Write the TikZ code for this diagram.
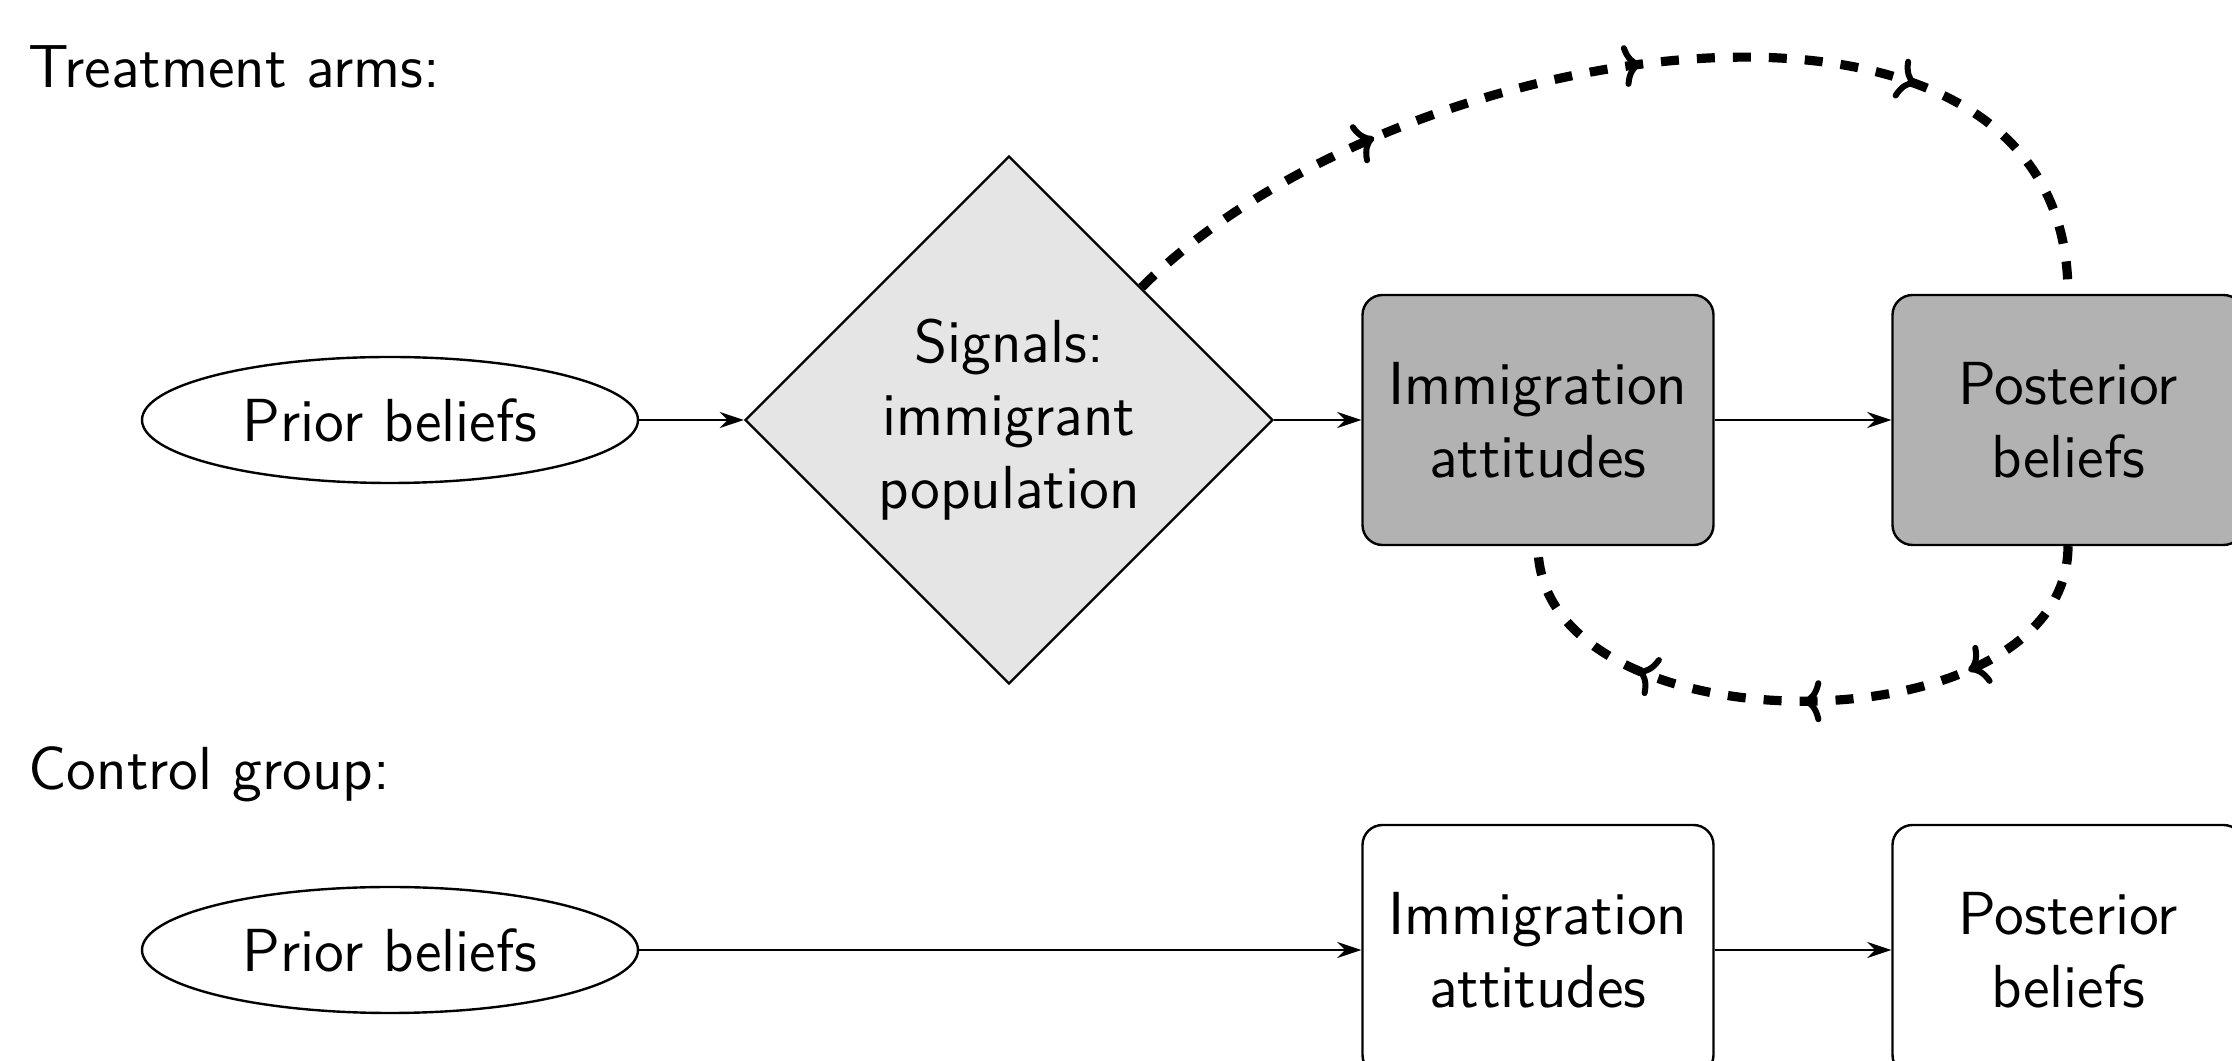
\documentclass[tikz,border=0pt]{standalone}
\usepackage{fontspec}
\usetikzlibrary{shapes.geometric,arrows.meta,decorations.markings}
\tikzset{looptip/.tip={Computer Modern Rightarrow[length=4.6pt, width=10.5pt, line width=1.5pt]}}
\begin{document}
\begin{tikzpicture}[x=0.25pt,y=0.25pt,
  font=\sffamily\fontsize{15.2pt}{18.25pt}\selectfont,
  oval/.style={draw, line width=0.6pt, ellipse, minimum width=124pt, minimum height=31.5pt, inner sep=0pt},
  signal/.style={draw, line width=0.6pt, diamond, aspect=1, fill=black!10, minimum width=132pt, minimum height=132pt, inner sep=0pt, align=center},
  stage/.style={draw, line width=0.6pt, rounded corners=5pt, minimum width=87.75pt, minimum height=62.5pt, align=center, inner sep=0pt},
  stagedark/.style={stage, fill=black!30},
  title/.style={anchor=base west, inner sep=0pt},
  flow/.style={line width=0.6pt, -{Stealth[length=6pt,width=4pt]}},
  loopflow/.style={line width=2.3pt, dash pattern=on 4.5pt off 4.5pt,
    postaction={decorate},
    decoration={markings,
      mark=at position 0.25 with {\arrow{looptip}},
      mark=at position 0.5 with {\arrow{looptip}},
      mark=at position 0.75 with {\arrow{looptip}}}},
]
\useasboundingbox (0,0) rectangle (2232,1061);
\fill[white] (0,0) rectangle (2232,1061);

\node[title] (ttitle) at (28,973) {Treatment arms:};
\node[title] (ctitle) at (28,271) {Control group:};

\node[oval] (prior1) at (390,641) {Prior beliefs};
\node[signal] (sig) at (1009,641) {Signals:\\immigrant\\population};
\node[stagedark] (att1) at (1538,641) {Immigration\\attitudes};
\node[stagedark] (post1) at (2068,641) {Posterior\\beliefs};

\node[oval] (prior2) at (390,111) {Prior beliefs};
\node[stage] (att2) at (1538,111) {Immigration\\attitudes};
\node[stage] (post2) at (2068,111) {Posterior\\beliefs};

\draw[flow] (prior1) -- (sig);
\draw[flow] (sig) -- (att1);
\draw[flow] (att1) -- (post1);
\draw[flow] (prior2) -- (att2);
\draw[flow] (att2) -- (post2);

\draw[loopflow] (sig.north east) to[out=45,in=90] (post1.north);
\draw[loopflow] (post1.south) to[out=-90,in=-90] (att1.south);
\end{tikzpicture}
\end{document}
